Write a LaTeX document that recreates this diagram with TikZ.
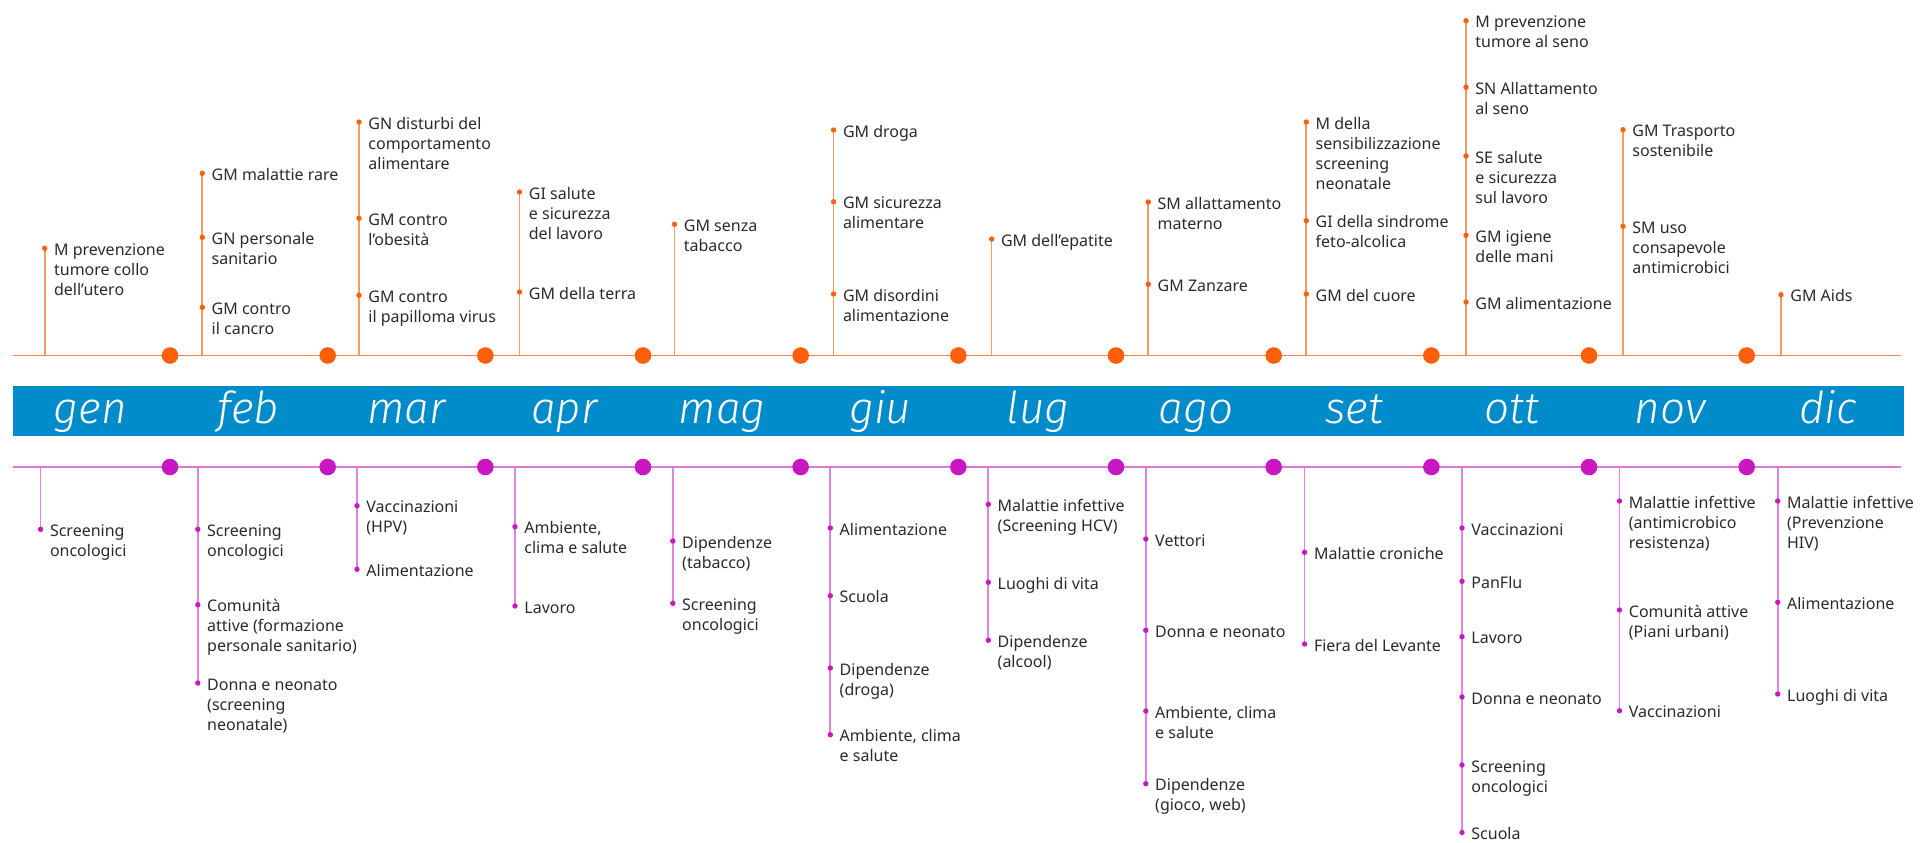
\documentclass[tikz,border=0pt]{standalone}
\usepackage{fontspec}
\setmainfont{Noto Sans}
\newfontfamily\monthfont{Fira Sans Light Italic}
\usetikzlibrary{backgrounds}
\definecolor{olinec}{HTML}{F5854A}
\definecolor{ovlinec}{HTML}{F79A6A}
\definecolor{odotc}{HTML}{FF5E0A}
\definecolor{mlinec}{HTML}{E076DA}
\definecolor{mvlinec}{HTML}{E283DD}
\definecolor{mdotc}{HTML}{C918C2}
\definecolor{bandc}{HTML}{008BCB}
\definecolor{txtc}{HTML}{2A2A2A}
\newcommand\ev[4]{%
  \node[#4dot] (#1) at #2 {};
  \node[itemtext] (#1t) at ([xshift=4.5pt,yshift=-3.5pt]#1.center) {\begin{tabular}[t]{@{}l@{}}#3\end{tabular}};%
}
\begin{document}
\begin{tikzpicture}[x=0.5pt,y=-0.5pt,
  olin/.style={draw=olinec,line width=0.85pt},
  mlin/.style={draw=mlinec,line width=0.85pt},
  ovl/.style={draw=ovlinec,line width=0.85pt},
  mvl/.style={draw=mvlinec,line width=0.85pt},
  odot/.style={circle,fill=odotc,inner sep=0pt,minimum size=2.7pt},
  mdot/.style={circle,fill=mdotc,inner sep=0pt,minimum size=2.7pt},
  obig/.style={circle,fill=odotc,inner sep=0pt,minimum size=8.3pt},
  mbig/.style={circle,fill=mdotc,inner sep=0pt,minimum size=8.3pt},
  itemtext/.style={anchor=base west,inner sep=0pt,text=txtc,font=\fontsize{8}{10}\selectfont},
  band/.style={fill=bandc,inner sep=0pt,minimum width=945.8pt,minimum height=25.15pt},
  month/.style={anchor=base,inner sep=0pt,text=white,font=\fontsize{22}{24}\selectfont\monthfont}]
\useasboundingbox (0,0) rectangle (1923,842);
% axes
\coordinate (oL) at (12.7,355.5); \coordinate (oR) at (1901,355.5);
\coordinate (mL) at (12.7,467); \coordinate (mR) at (1901,467);
\draw[olin] (oL) -- (oR);
\draw[mlin] (mL) -- (mR);
\node[band] (bandbox) at (958.5,410.85) {};
\foreach \k in {0,...,10}{
  \node[obig] (ob\k) at ({170+\k*157.67},355.5) {};
  \node[mbig] (mb\k) at ({170+\k*157.67},467) {};
}
\foreach \m [count=\i from 0] in {gen,feb,mar,apr,mag,giu,lug,ago,set,ott,nov,dic}{
  \node[month] (mo\i) at ({90.5+\i*157.95},423.3) {\m};
}
% ---------- top (orange) ----------
\ev{t1a}{(44.7,248.3)}{M prevenzione\\tumore collo\\dell’utero}{o}
\ev{t2a}{(202.3,173.3)}{GM malattie rare}{o}
\ev{t2b}{(202.3,237.3)}{GN personale\\sanitario}{o}
\ev{t2c}{(202.3,307.3)}{GM contro\\il cancro}{o}
\ev{t3a}{(359,122)}{GN disturbi del\\comportamento\\alimentare}{o}
\ev{t3b}{(359,218.3)}{GM contro\\l’obesità}{o}
\ev{t3c}{(359,295.3)}{GM contro\\il papilloma virus}{o}
\ev{t4a}{(519.5,192)}{GI salute\\e sicurezza\\del lavoro}{o}
\ev{t4b}{(519.5,292)}{GM della terra}{o}
\ev{t5a}{(674.5,224.3)}{GM senza\\tabacco}{o}
\ev{t6a}{(833.6,130)}{GM droga}{o}
\ev{t6b}{(833.6,201.7)}{GM sicurezza\\alimentare}{o}
\ev{t6c}{(833.6,294)}{GM disordini\\alimentazione}{o}
\ev{t7a}{(991.6,239)}{GM dell’epatite}{o}
\ev{t8a}{(1148.3,202)}{SM allattamento\\materno}{o}
\ev{t8b}{(1148.3,284.3)}{GM Zanzare}{o}
\ev{t9a}{(1306.3,122)}{M della\\sensibilizzazione\\screening\\neonatale}{o}
\ev{t9b}{(1306.3,220.7)}{GI della sindrome\\feto-alcolica}{o}
\ev{t9c}{(1306.3,294)}{GM del cuore}{o}
\ev{t10a}{(1466,20.7)}{M prevenzione\\tumore al seno}{o}
\ev{t10b}{(1466,87.3)}{SN Allattamento\\al seno}{o}
\ev{t10c}{(1466,156)}{SE salute\\e sicurezza\\sul lavoro}{o}
\ev{t10d}{(1466,235.3)}{GM igiene\\delle mani}{o}
\ev{t10e}{(1466,302)}{GM alimentazione}{o}
\ev{t11a}{(1623,129.7)}{GM Trasporto\\sostenibile}{o}
\ev{t11b}{(1623,226.3)}{SM uso\\consapevole\\antimicrobici}{o}
\ev{t12a}{(1781,294.7)}{GM Aids}{o}
% ---------- bottom (magenta) ----------
\ev{b1a}{(40.6,529.3)}{Screening\\oncologici}{m}
\ev{b2a}{(197.8,529.3)}{Screening\\oncologici}{m}
\ev{b2b}{(197.8,604.7)}{Comunità\\attive (formazione\\personale sanitario)}{m}
\ev{b2c}{(197.8,683)}{Donna e neonato\\(screening\\neonatale)}{m}
\ev{b3a}{(357,505.7)}{Vaccinazioni\\(HPV)}{m}
\ev{b3b}{(357,569.3)}{Alimentazione}{m}
\ev{b4a}{(515,526.7)}{Ambiente,\\clima e salute}{m}
\ev{b4b}{(515,606)}{Lavoro}{m}
\ev{b5a}{(672.8,541)}{Dipendenze\\(tabacco)}{m}
\ev{b5b}{(672.8,603.3)}{Screening\\oncologici}{m}
\ev{b6a}{(830.3,528)}{Alimentazione}{m}
\ev{b6b}{(830.3,595.7)}{Scuola}{m}
\ev{b6c}{(830.3,668)}{Dipendenze\\(droga)}{m}
\ev{b6d}{(830.3,734.7)}{Ambiente, clima\\e salute}{m}
\ev{b7a}{(988.3,504.3)}{Malattie infettive\\(Screening HCV)}{m}
\ev{b7b}{(988.3,582.3)}{Luoghi di vita}{m}
\ev{b7c}{(988.3,640.3)}{Dipendenze\\(alcool)}{m}
\ev{b8a}{(1145.8,539)}{Vettori}{m}
\ev{b8b}{(1145.8,630.3)}{Donna e neonato}{m}
\ev{b8c}{(1145.8,711)}{Ambiente, clima\\e salute}{m}
\ev{b8d}{(1145.8,783.7)}{Dipendenze\\(gioco, web)}{m}
\ev{b9a}{(1304.6,552.3)}{Malattie croniche}{m}
\ev{b9b}{(1304.6,644)}{Fiera del Levante}{m}
\ev{b10a}{(1462,528)}{Vaccinazioni}{m}
\ev{b10b}{(1462,581.3)}{PanFlu}{m}
\ev{b10c}{(1462,636.7)}{Lavoro}{m}
\ev{b10d}{(1462,697)}{Donna e neonato}{m}
\ev{b10e}{(1462,765)}{Screening\\oncologici}{m}
\ev{b10f}{(1462,832.5)}{Scuola}{m}
\ev{b11a}{(1619.5,501)}{Malattie infettive\\(antimicrobico\\resistenza)}{m}
\ev{b11b}{(1619.5,610)}{Comunità attive\\(Piani urbani)}{m}
\ev{b11c}{(1619.5,710.7)}{Vaccinazioni}{m}
\ev{b12a}{(1777.7,501)}{Malattie infettive\\(Prevenzione\\HIV)}{m}
\ev{b12b}{(1777.7,602.3)}{Alimentazione}{m}
\ev{b12c}{(1777.7,694)}{Luoghi di vita}{m}
% ---------- stems ----------
\begin{pgfonlayer}{background}
\foreach \n/\x in {t1a/44.7,t2a/202.3,t3a/359,t4a/519.5,t5a/674.5,t6a/833.6,t7a/991.6,t8a/1148.3,t9a/1306.3,t10a/1466,t11a/1623,t12a/1781}{
  \coordinate (a\n) at (\x,355.5);
  \draw[ovl] (a\n) -- (\n.center);
}
\foreach \n/\x in {b1a/40.6,b2c/197.8,b3b/357,b4b/515,b5b/672.8,b6d/830.3,b7c/988.3,b8d/1145.8,b9b/1304.6,b10f/1462,b11c/1619.5,b12c/1777.7}{
  \coordinate (a\n) at (\x,467);
  \draw[mvl] (a\n) -- (\n.center);
}
\end{pgfonlayer}
\end{tikzpicture}
\end{document}
